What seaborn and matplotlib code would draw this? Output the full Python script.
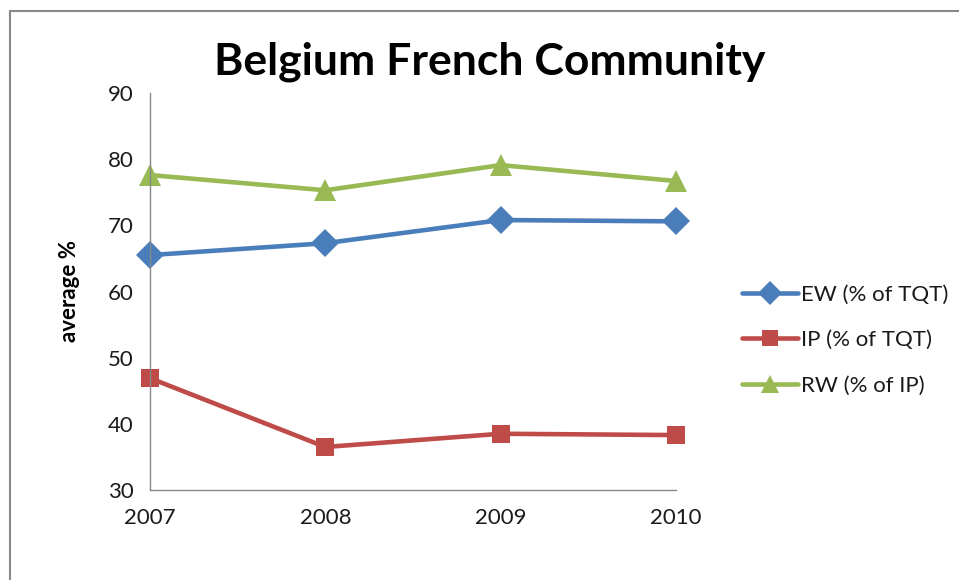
import pandas as pd
import numpy as np
import matplotlib.pyplot as plt
import seaborn as sns
from matplotlib.lines import Line2D

sns.set_theme(style="white")
plt.rcParams['font.family'] = ['Lato', 'DejaVu Sans']
plt.rcParams['text.color'] = 'black'

years = [2007, 2008, 2009, 2010]
ew = [65.5, 67.3, 70.8, 70.6]
ip = [46.9, 36.5, 38.5, 38.3]
rw = [77.6, 75.3, 79.1, 76.7]
series_names = ['EW (% of TQT)', 'IP (% of TQT)', 'RW (% of IP)']

df = pd.DataFrame({
    'year': years * 3,
    'value': ew + ip + rw,
    'series': np.repeat(series_names, len(years)),
})

colors = {'EW (% of TQT)': '#4A7EBB', 'IP (% of TQT)': '#BE4B48', 'RW (% of IP)': '#98B954'}
markers = {'EW (% of TQT)': 'D', 'IP (% of TQT)': 's', 'RW (% of IP)': '^'}
msizes = {'EW (% of TQT)': 14, 'IP (% of TQT)': 13, 'RW (% of IP)': 16}

fig = plt.figure(figsize=(9.59, 5.80), dpi=100)
ax = fig.add_axes([150 / 959, 1 - 490 / 580, 526 / 959, 397 / 580])

sns.lineplot(data=df, x='year', y='value', hue='series', style='series',
             palette=colors, markers=markers, dashes=False, linewidth=3.3,
             markeredgewidth=0, ax=ax, legend=False)
for line, name in zip(ax.lines, series_names):
    line.set_markersize(msizes[name])
    line.set_clip_on(False)

ax.set_xlim(2007, 2010)
ax.set_ylim(30, 90)
ax.set_xticks(years)
ax.set_xticklabels([str(y) for y in years])
ax.set_yticks(range(30, 91, 10))
ax.tick_params(axis='both', length=0, labelsize=16, colors='#1a1a1a')
ax.tick_params(axis='x', pad=13)
ax.tick_params(axis='y', pad=12)
ax.set_xlabel('')
ax.set_ylabel('average %', fontsize=16, fontweight='bold', labelpad=20, color='black')
for s in ['top', 'right']:
    ax.spines[s].set_visible(False)
for s in ['left', 'bottom']:
    ax.spines[s].set_color('#888888')
    ax.spines[s].set_linewidth(1)

fig.suptitle('Belgium French Community', x=490 / 959, y=1 - 62 / 580, va='center',
             fontsize=32, fontweight='bold', color='black')

handles = [Line2D([], [], color=colors[n], marker=markers[n], markersize=msizes[n] * 0.85,
                  markeredgewidth=0, linewidth=3.3) for n in series_names]
fig.legend(handles, series_names, loc='center left', bbox_to_anchor=(722 / 959, 1 - 340 / 580),
           frameon=False, fontsize=16, handlelength=2.5, handletextpad=0.15, labelspacing=1.15,
           labelcolor='#1a1a1a')

# outer chart frame
fig.add_artist(Line2D([9.5 / 959, 9.5 / 959], [0, 1 - 10.5 / 580], transform=fig.transFigure,
                      color='#888888', linewidth=1.5))
fig.add_artist(Line2D([9.5 / 959, 1], [1 - 10.5 / 580, 1 - 10.5 / 580], transform=fig.transFigure,
                      color='#888888', linewidth=1.5))

fig.savefig('out.png', dpi=100)
